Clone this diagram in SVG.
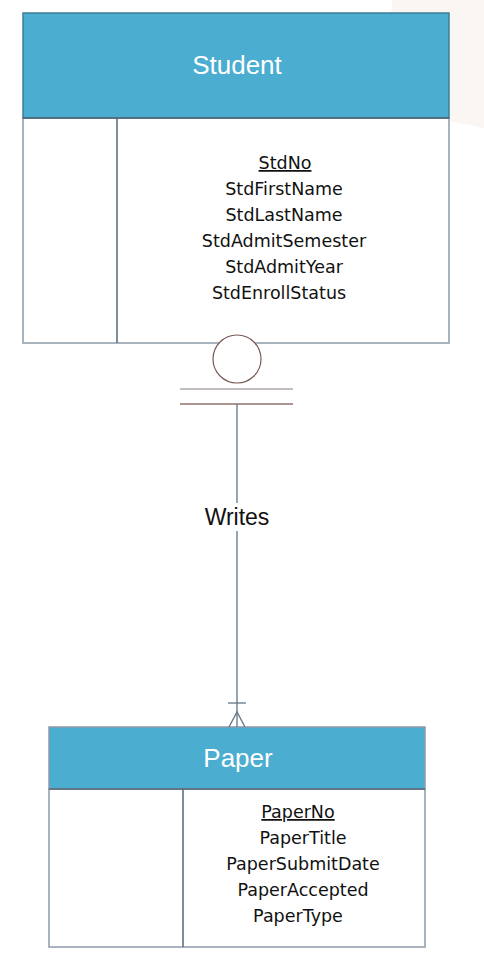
<svg xmlns="http://www.w3.org/2000/svg" width="484" height="958" viewBox="0 0 484 958">
<defs>
<style>
.hdr{fill:#4badd0;stroke:#3d7d96;stroke-width:1.5}
.body{fill:#ffffff;stroke:#8c9ba8;stroke-width:1.5}
.div{stroke:#56697a;stroke-width:1.5}
.title{font-family:"Liberation Sans",Arial,sans-serif;font-size:26px;fill:#ffffff;text-anchor:middle}
.attr{font-family:"DejaVu Sans",sans-serif;font-size:17.5px;fill:#111111;text-anchor:middle}
.conn{stroke:#5f7686;stroke-width:1.3;fill:none}
</style>
</defs>
<rect width="484" height="958" fill="#ffffff"/>
<polygon points="392,0 484,0 484,128 449,121 385,110" fill="#faf6f3"/>
<g id="student">
<rect class="body" x="23" y="118" width="426" height="225"/>
<rect class="hdr" x="23" y="13" width="426" height="105"/>
<line class="div" x1="23" y1="118" x2="449" y2="118"/>
<line class="div" x1="117" y1="118" x2="117" y2="343"/>
<text class="title" x="237" y="74">Student</text>
<text class="attr" x="285" y="169" text-decoration="underline">StdNo</text>
<text class="attr" x="284" y="195">StdFirstName</text>
<text class="attr" x="284" y="221">StdLastName</text>
<text class="attr" x="284" y="247">StdAdmitSemester</text>
<text class="attr" x="284" y="273">StdAdmitYear</text>
<text class="attr" x="279" y="299">StdEnrollStatus</text>
</g>
<g id="paper">
<rect class="body" x="49" y="789" width="376" height="158"/>
<rect class="hdr" x="49" y="727" width="376" height="62" style="stroke:#8c9ba8"/>
<line class="div" x1="49" y1="789" x2="425" y2="789"/>
<line class="div" x1="183" y1="789" x2="183" y2="947"/>
<text class="title" x="238" y="767">Paper</text>
<text class="attr" x="298" y="818" text-decoration="underline">PaperNo</text>
<text class="attr" x="303" y="844">PaperTitle</text>
<text class="attr" x="303" y="870">PaperSubmitDate</text>
<text class="attr" x="303" y="896">PaperAccepted</text>
<text class="attr" x="298" y="922">PaperType</text>
</g>
<g id="connectors">
<circle cx="237" cy="359" r="24" fill="#ffffff" stroke="#7a5a55" stroke-width="1.2"/>
<line x1="180" y1="389" x2="293" y2="389" stroke="#8a7f7c" stroke-width="1.2"/>
<line x1="180" y1="404" x2="293" y2="404" stroke="#5a2a22" stroke-width="1.2"/>
<line class="conn" x1="237" y1="404" x2="237" y2="727"/>
<line class="conn" x1="228" y1="703" x2="246" y2="703"/>
<polyline class="conn" points="229,727 237,712 245,727"/>
<rect x="198" y="503" width="78" height="28" fill="#ffffff"/>
<text x="237" y="525" font-family="Liberation Sans, Arial, sans-serif" font-size="23" fill="#111111" text-anchor="middle">Writes</text>
</g>
</svg>
